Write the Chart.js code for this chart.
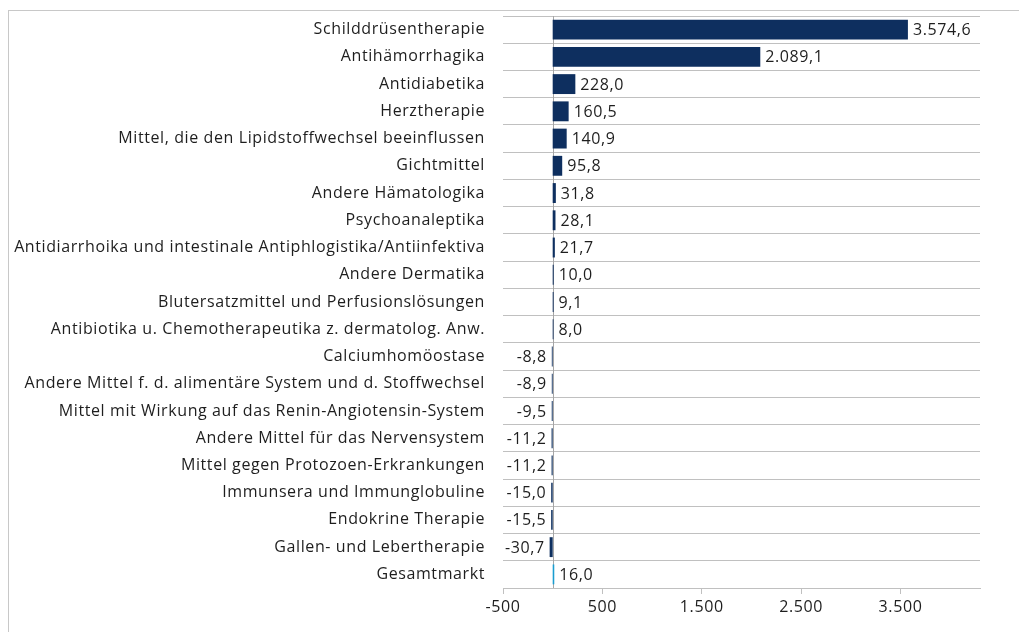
<!DOCTYPE html>
<html>
<head>
<meta charset="utf-8">
<script src="https://cdn.jsdelivr.net/npm/chart.js@4"></script>
<style>
    html, body { margin: 0; padding: 0; background: #fff; overflow: hidden; }
    #frame { position: absolute; left: 8px; top: 10px; width: 1100px; height: 700px; border: 1px solid #c8c8c8; }
    #wrap { position: absolute; left: 0; top: 0; width: 1019px; height: 632px; }
</style>
</head>
<body>
<div id="frame"></div>
<div id="wrap"><canvas id="bar-chart"></canvas></div>
<script>
const categories = [
    'Schilddrüsentherapie',
    'Antihämorrhagika',
    'Antidiabetika',
    'Herztherapie',
    'Mittel, die den Lipidstoffwechsel beeinflussen',
    'Gichtmittel',
    'Andere Hämatologika',
    'Psychoanaleptika',
    'Antidiarrhoika und intestinale Antiphlogistika/Antiinfektiva',
    'Andere Dermatika',
    'Blutersatzmittel und Perfusionslösungen',
    'Antibiotika u. Chemotherapeutika z. dermatolog. Anw.',
    'Calciumhomöostase',
    'Andere Mittel f. d. alimentäre System und d. Stoffwechsel',
    'Mittel mit Wirkung auf das Renin-Angiotensin-System',
    'Andere Mittel für das Nervensystem',
    'Mittel gegen Protozoen-Erkrankungen',
    'Immunsera und Immunglobuline',
    'Endokrine Therapie',
    'Gallen- und Lebertherapie',
    'Gesamtmarkt'
];
const values = [3574.6, 2089.1, 228.0, 160.5, 140.9, 95.8, 31.8, 28.1, 21.7, 10.0, 9.1, 8.0,
    -8.8, -8.9, -9.5, -11.2, -11.2, -15.0, -15.5, -30.7, 16.0];
const valueTicks = [-500, 500, 1500, 2500, 3500];
const axisMin = -500;
const axisMax = 4300;

const navy = '#0e2f5f';
const lightBlue = '#1a9dd0';
const textColor = '#1e1e1e';
const lineColor = '#c0c0c0';
const fontFamily = '"Open Sans", sans-serif';
const fontSize = 16;
const spacing = '0.6px';

// German number format: 3.574,6
function fmt(v, digits) {
    const neg = v < 0;
    const parts = Math.abs(v).toFixed(digits).split('.');
    const intPart = parts[0].replace(/\B(?=(\d{3})+(?!\d))/g, '.');
    return (neg ? '-' : '') + intPart + (parts[1] ? ',' + parts[1] : '');
}

// a bit wider letters, closer to the original's font
const letterSpacing = {
    id: 'letterSpacing',
    beforeLayout(chart) { chart.ctx.letterSpacing = spacing; },
    beforeDraw(chart) { chart.ctx.letterSpacing = spacing; }
};

const zeroLine = {
    id: 'zeroLine',
    beforeDatasetsDraw(chart) {
        const { ctx, chartArea, scales } = chart;
        const x = Math.round(scales.x.getPixelForValue(0)) + 0.5;
        ctx.save();
        ctx.strokeStyle = '#a6a6a6';
        ctx.lineWidth = 1;
        ctx.beginPath();
        ctx.moveTo(x, chartArea.top);
        ctx.lineTo(x, chartArea.bottom);
        ctx.stroke();
        ctx.restore();
    }
};

const valueLabels = {
    id: 'valueLabels',
    afterDatasetsDraw(chart) {
        const { ctx } = chart;
        const meta = chart.getDatasetMeta(0);
        ctx.save();
        ctx.font = fontSize + 'px ' + fontFamily;
        ctx.fillStyle = textColor;
        ctx.textBaseline = 'middle';
        meta.data.forEach((bar, i) => {
            const v = values[i];
            const label = fmt(v, 1);
            if (v >= 0) {
                ctx.textAlign = 'left';
                ctx.fillText(label, bar.x + 5, bar.y + 1);
            } else {
                ctx.textAlign = 'right';
                ctx.fillText(label, bar.x - 5, bar.y + 1);
            }
        });
        ctx.restore();
    }
};

const ctx = document.getElementById('bar-chart').getContext('2d');
new Chart(ctx, {
    type: 'bar',
    data: {
        labels: categories,
        datasets: [{
            data: values,
            backgroundColor: categories.map(c => c === 'Gesamtmarkt' ? lightBlue : navy),
            borderWidth: 0,
            categoryPercentage: 1,
            barPercentage: 0.73
        }]
    },
    options: {
        indexAxis: 'y',
        responsive: true,
        maintainAspectRatio: false,
        animation: false,
        layout: { padding: { top: 16, right: 39, left: 0, bottom: 0 } },
        plugins: {
            legend: { display: false },
            tooltip: { enabled: false }
        },
        scales: {
            x: {
                min: axisMin,
                max: axisMax,
                afterBuildTicks: axis => { axis.ticks = valueTicks.map(v => ({ value: v })); },
                afterFit: s => { s.height = 44; },
                grid: {
                    drawOnChartArea: false,
                    drawTicks: true,
                    tickLength: 6,
                    tickColor: lineColor
                },
                border: { display: true, color: lineColor },
                ticks: {
                    color: textColor,
                    font: { family: fontFamily, size: fontSize },
                    padding: 4,
                    maxRotation: 0,
                    callback: v => fmt(v, 0)
                }
            },
            y: {
                afterFit: s => { s.width = 503; s.paddingTop = 0; s.paddingBottom = 0; },
                grid: {
                    offset: true,
                    color: lineColor,
                    drawTicks: false
                },
                border: { display: false },
                ticks: {
                    color: textColor,
                    font: { family: fontFamily, size: fontSize },
                    padding: 18,
                    autoSkip: false
                }
            }
        }
    },
    plugins: [letterSpacing, zeroLine, valueLabels]
});
</script>
</body>
</html>
